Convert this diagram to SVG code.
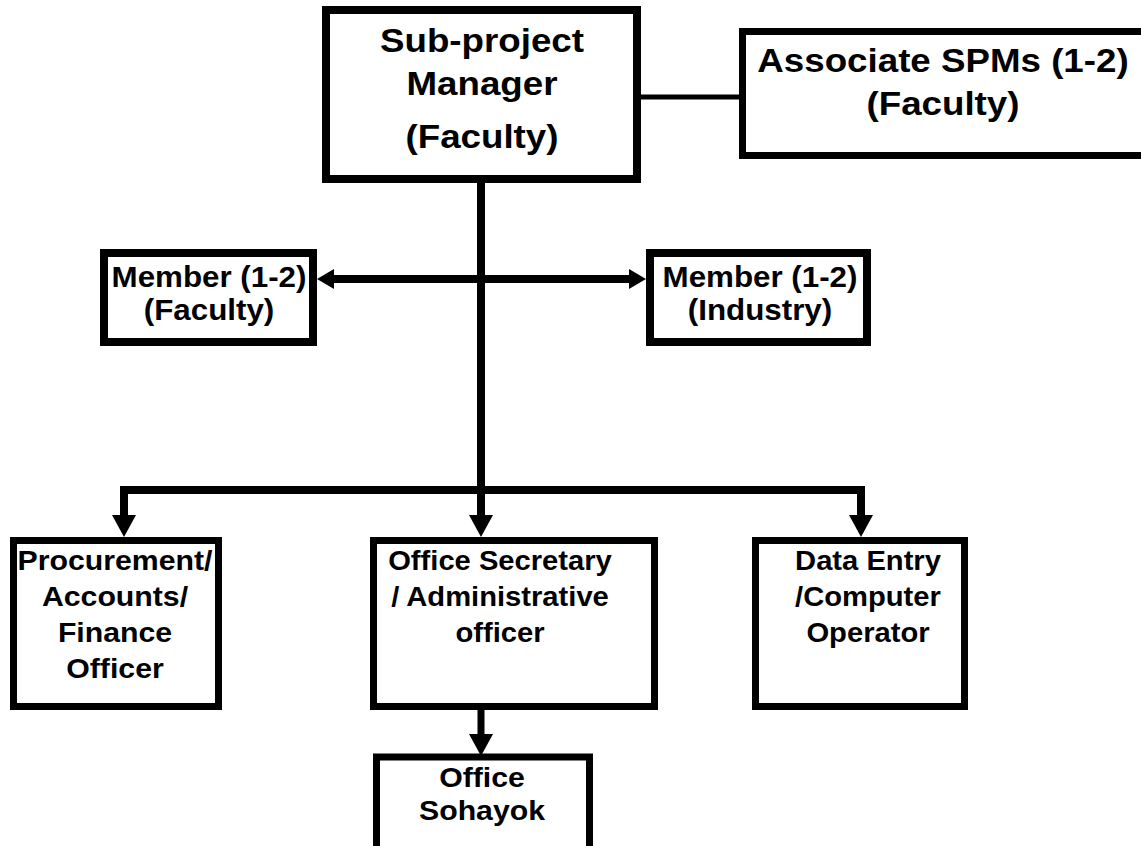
<svg xmlns="http://www.w3.org/2000/svg" width="1141" height="846" viewBox="0 0 1141 846">
<style>
.box{fill:#fff;stroke:#000;stroke-width:7}
.t{font-family:"Liberation Sans",Arial,sans-serif;font-weight:bold;fill:#000;text-anchor:middle}
.c{stroke:#000;fill:none;stroke-width:8;stroke-linejoin:miter}
</style>
<defs>
<marker id="ah" viewBox="0 0 22 24" refX="0" refY="12" markerWidth="22" markerHeight="24" markerUnits="userSpaceOnUse" orient="auto">
<path d="M0,0 L22,12 L0,24 z" fill="#000"/>
</marker>
<marker id="ahs" viewBox="0 0 17 20" refX="0" refY="10" markerWidth="17" markerHeight="20" markerUnits="userSpaceOnUse" orient="auto">
<path d="M0,0 L17,10 L0,20 z" fill="#000"/>
</marker>
</defs>
<rect width="1141" height="846" fill="#fff"/>
<g id="connectors">
<line class="c" x1="641" y1="97" x2="741" y2="97" style="stroke-width:5"/>
<path class="c" d="M481,183 V515" marker-end="url(#ah)"/>
<path class="c" d="M481,490 H124 V515" marker-end="url(#ah)"/>
<path class="c" d="M481,490 H861 V515" marker-end="url(#ah)"/>
<path class="c" d="M481,279 H334" marker-end="url(#ahs)"/>
<path class="c" d="M481,279 H629" marker-end="url(#ahs)"/>
<path class="c" d="M481,706 V734" style="stroke-width:7" marker-end="url(#ah)"/>
</g>
<g id="spm">
<rect class="box" x="326" y="10" width="311" height="169" style="stroke-width:8"/>
<g transform="translate(482,0) scale(1.08,1)">
<text class="t" x="0" y="52" font-size="34">Sub-project</text>
<text class="t" x="0" y="95" font-size="34">Manager</text>
<text class="t" x="0" y="148" font-size="34">(Faculty)</text>
</g>
</g>
<g id="assoc">
<rect class="box" x="742.5" y="31.5" width="430" height="124"/>
<g transform="translate(943,0) scale(1.08,1)">
<text class="t" x="0" y="72" font-size="34">Associate SPMs (1-2)</text>
<text class="t" x="0" y="115" font-size="34">(Faculty)</text>
</g>
</g>
<g id="memfac">
<rect class="box" x="104" y="253" width="209" height="89" style="stroke-width:8"/>
<g transform="translate(209,0) scale(1.08,1)">
<text class="t" x="0" y="287" font-size="29">Member (1-2)</text>
<text class="t" x="0" y="320" font-size="29">(Faculty)</text>
</g>
</g>
<g id="memind">
<rect class="box" x="650" y="253" width="217" height="89" style="stroke-width:8"/>
<g transform="translate(760,0) scale(1.08,1)">
<text class="t" x="0" y="287" font-size="29">Member (1-2)</text>
<text class="t" x="0" y="320" font-size="29">(Industry)</text>
</g>
</g>
<g id="proc">
<rect class="box" x="13.5" y="540.5" width="205" height="166"/>
<g transform="translate(115,0) scale(1.08,1)">
<text class="t" x="0" y="570" font-size="28">Procurement/</text>
<text class="t" x="0" y="606" font-size="28">Accounts/</text>
<text class="t" x="0" y="642" font-size="28">Finance</text>
<text class="t" x="0" y="678" font-size="28">Officer</text>
</g>
</g>
<g id="office">
<rect class="box" x="373.5" y="540.5" width="281" height="166"/>
<g transform="translate(500,0) scale(1.08,1)">
<text class="t" x="0" y="570" font-size="27">Office Secretary</text>
<text class="t" x="0" y="606" font-size="27">/ Administrative</text>
<text class="t" x="0" y="642" font-size="27">officer</text>
</g>
</g>
<g id="dataentry">
<rect class="box" x="755.5" y="540.5" width="209" height="166"/>
<g transform="translate(868,0) scale(1.08,1)">
<text class="t" x="0" y="570" font-size="27">Data Entry</text>
<text class="t" x="0" y="606" font-size="27">/Computer</text>
<text class="t" x="0" y="642" font-size="27">Operator</text>
</g>
</g>
<g id="sohayok">
<rect class="box" x="376.5" y="757" width="213" height="120"/>
<g transform="translate(482,0) scale(1.08,1)">
<text class="t" x="0" y="787" font-size="28">Office</text>
<text class="t" x="0" y="820" font-size="28">Sohayok</text>
</g>
</g>
</svg>
